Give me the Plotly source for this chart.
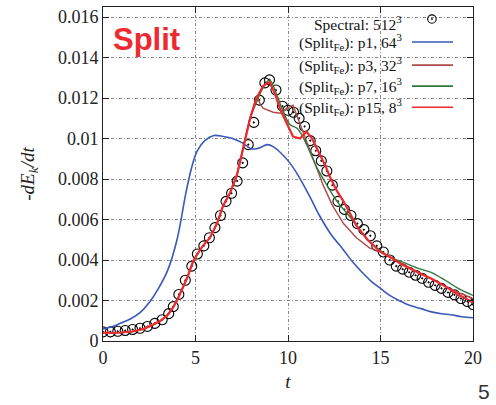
import plotly.graph_objects as go

# ---------------- data ----------------
spec_t = [0.0, 0.4, 0.8, 1.2, 1.6, 2.0, 2.4, 2.8, 3.2, 3.55, 3.8, 4.1, 4.45, 4.8, 5.1, 5.45,
          5.75, 6.05, 6.35, 6.65, 6.95, 7.25, 7.55, 7.85, 8.15, 8.45, 8.75, 9.0, 9.35, 9.7,
          10.0, 10.3, 10.6, 10.9, 11.2, 11.5, 11.8, 12.1, 12.4, 12.7, 13.05, 13.4, 13.75,
          14.1, 14.45, 14.8, 15.15, 15.5, 15.85, 16.2, 16.55, 16.9, 17.25, 17.6, 17.95,
          18.3, 18.65, 19.0, 19.35, 19.7, 20.0]
spec_v = [0.00045, 0.00045, 0.00048, 0.00052, 0.00057, 0.00063, 0.00072, 0.00087, 0.00105,
          0.00135, 0.0017, 0.0023, 0.0030, 0.0037, 0.0043, 0.0047, 0.0051, 0.0056, 0.0062,
          0.0069, 0.0073, 0.0079, 0.0088, 0.0097, 0.0108, 0.0119, 0.01275, 0.0129, 0.0124,
          0.0116, 0.0114, 0.0113, 0.0110, 0.0106, 0.0099, 0.0094, 0.0089, 0.0084, 0.0077,
          0.0069, 0.0065, 0.0062, 0.0058, 0.0055, 0.0052, 0.0047, 0.0044, 0.0040, 0.0037,
          0.00355, 0.0034, 0.00325, 0.0031, 0.0029, 0.00275, 0.0026, 0.0024, 0.00228,
          0.0021, 0.00195, 0.0018]

p1_t = [0, 0.5, 1.0, 1.5, 2.0, 2.5, 3.0, 3.5, 4.0, 4.5, 4.8, 5.1, 5.5, 6.0, 6.5, 7.0, 7.5,
        8.0, 8.3, 8.6, 8.9, 9.2, 9.6, 10.1, 10.6, 11.2, 11.7, 12.3, 13.0, 13.5, 14.0, 14.5,
        15.0, 15.5, 16.0, 16.6, 17.2, 17.7, 18.3, 18.8, 19.4, 20.0]
p1_v = [0.0006, 0.0007, 0.0009, 0.0011, 0.0014, 0.0019, 0.0026, 0.0035, 0.0050, 0.0074,
        0.0086, 0.0094, 0.0099, 0.01015, 0.0101, 0.0100, 0.0098, 0.0095, 0.0095, 0.0096,
        0.0097, 0.0096, 0.0093, 0.0088, 0.0081, 0.0071, 0.0062, 0.0053, 0.0045, 0.0039,
        0.0034, 0.00295, 0.0026, 0.00225, 0.0020, 0.00175, 0.0016, 0.00145, 0.00135,
        0.0013, 0.0012, 0.00115]

rise_t = [0, 0.5, 1.0, 1.6, 2.2, 2.7, 3.1, 3.46, 3.75, 4.0, 4.3, 4.54, 4.86, 5.1, 5.4,
          5.78, 6.16, 6.5, 6.86, 7.24, 7.57, 7.95]
rise_v = [0.0004, 0.0004, 0.00042, 0.00047, 0.0006, 0.0008, 0.001, 0.00125, 0.0016, 0.0020,
          0.0026, 0.0031, 0.0039, 0.0043, 0.0047, 0.0051, 0.0058, 0.0067, 0.0073, 0.0082,
          0.0095, 0.0110]

p3_t = rise_t + [8.3, 8.5, 8.65, 8.9, 9.2, 9.57, 9.95, 10.27, 10.5, 10.9, 11.35, 11.9, 12.4,
                 13.0, 13.7, 14.4, 15.0, 15.6, 16.2, 17.0, 17.7, 18.5, 19.2, 20.0]
p3_v = rise_v + [0.0121, 0.0117, 0.0115, 0.0114, 0.0113, 0.01125, 0.0115, 0.01165, 0.0111,
                 0.0101, 0.0090, 0.0077, 0.0067, 0.0058, 0.0051, 0.0046, 0.0044, 0.0041,
                 0.0038, 0.0034, 0.0031, 0.0027, 0.0024, 0.0021]

p7_t = rise_t + [8.3, 8.65, 9.0, 9.4, 9.73, 10.1, 10.5, 10.8, 11.2, 11.6, 12.1, 12.65, 13.2,
                 13.8, 14.4, 15.1, 15.6, 16.2, 17.0, 17.7, 18.5, 19.2, 20.0]
p7_v = rise_v + [0.0118, 0.0125, 0.0129, 0.01215, 0.01135, 0.0107, 0.0105, 0.0101, 0.0093,
                 0.0085, 0.0077, 0.0069, 0.0063, 0.0056, 0.0049, 0.0044, 0.0041, 0.0039,
                 0.0036, 0.0034, 0.0030, 0.0026, 0.00225]

p15_t = rise_t + [8.3, 8.65, 9.0, 9.3, 9.6, 9.95, 10.27, 10.65, 11.0, 11.3, 11.73, 12.0,
                  12.27, 12.65, 13.0, 13.35, 13.7, 14.3, 15.0, 15.6, 16.2, 17.0, 17.7, 18.5,
                  19.2, 20.0]
p15_v = rise_v + [0.0120, 0.0126, 0.0128, 0.0122, 0.0114, 0.0107, 0.0101, 0.0100, 0.01035,
                  0.0100, 0.0092, 0.0087, 0.0081, 0.0074, 0.0069, 0.0063, 0.0057, 0.0050,
                  0.0044, 0.0041, 0.00375, 0.0034, 0.0031, 0.0027, 0.0023, 0.0019]

x_ticks = [0, 5, 10, 15, 20]
y_ticks = [0, 0.002, 0.004, 0.006, 0.008, 0.01, 0.012, 0.014, 0.016]
y_ticktext = ["0", "0.002", "0.004", "0.006", "0.008", "0.01", "0.012", "0.014", "0.016"]

legend_labels = ["Spectral: 512<sup>3</sup>",
                 "(Split<sub>Fe</sub>): p1, 64<sup>3</sup>",
                 "(Split<sub>Fe</sub>): p3, 32<sup>3</sup>",
                 "(Split<sub>Fe</sub>): p7, 16<sup>3</sup>",
                 "(Split<sub>Fe</sub>): p15, 8<sup>3</sup>"]

# ---------------- styles ----------------
C_BLUE = "#3a58b8"
C_BROWN = "#b04a4a"
C_GREEN = "#2e7a3c"
C_RED = "#ee2a30"
SERIF = "Liberation Serif"

fig = go.Figure()
fig.add_trace(go.Scatter(x=spec_t, y=spec_v, mode="markers",
                         marker=dict(symbol="circle-open-dot", size=10, color="black",
                                     line=dict(width=1.1, color="black"))))
fig.add_trace(go.Scatter(x=p1_t, y=p1_v, mode="lines", line=dict(color=C_BLUE, width=1.6, shape="spline")))
fig.add_trace(go.Scatter(x=p3_t, y=p3_v, mode="lines", line=dict(color=C_BROWN, width=1.4)))
fig.add_trace(go.Scatter(x=p7_t, y=p7_v, mode="lines", line=dict(color=C_GREEN, width=1.4, shape="spline")))
fig.add_trace(go.Scatter(x=p15_t, y=p15_v, mode="lines", line=dict(color=C_RED, width=2.2)))

# legend background (white box covering the grid)
fig.add_shape(type="rect", xref="paper", yref="paper", x0=0.403, x1=0.965, y0=0.677, y1=0.995,
              fillcolor="white", line=dict(width=0), layer="between")

leg_y = [0.952, 0.895, 0.826, 0.763, 0.700]
leg_colors = [None, C_BLUE, C_BROWN, C_GREEN, C_RED]
for lab, ly, col in zip(legend_labels, leg_y, leg_colors):
    fig.add_annotation(text=lab, xref="paper", yref="paper", x=0.813, y=ly,
                       xanchor="right", yanchor="middle", showarrow=False,
                       font=dict(family=SERIF, size=15.5, color="#111"))
    if col is None:
        fig.add_shape(type="circle", xref="paper", yref="paper",
                      x0=0.889 - 0.0115, x1=0.889 + 0.0115, y0=ly + 0.012 - 0.0125, y1=ly + 0.012 + 0.0125,
                      line=dict(color="black", width=1.1), layer="above")
        fig.add_shape(type="circle", xref="paper", yref="paper",
                      x0=0.889 - 0.002, x1=0.889 + 0.002, y0=ly + 0.012 - 0.002, y1=ly + 0.012 + 0.002,
                      fillcolor="black", line=dict(color="black", width=0.5), layer="above")
    else:
        fig.add_shape(type="line", xref="paper", yref="paper", x0=0.835, x1=0.946, y0=ly, y1=ly,
                      line=dict(color=col, width=1.6), layer="above")

fig.add_annotation(text="<b>Split</b>", xref="paper", yref="paper", x=0.022, y=0.902,
                   xanchor="left", yanchor="middle", showarrow=False,
                   font=dict(family="Liberation Sans", size=31, color=C_RED))
fig.add_annotation(text="5", xref="paper", yref="paper", x=1.052, y=-0.1916,
                   xanchor="right", yanchor="bottom", showarrow=False,
                   font=dict(family="Liberation Sans", size=21, color="#333"))

axis_common = dict(showline=True, linecolor="#222", linewidth=1, mirror="ticks",
                   ticks="inside", ticklen=6, tickcolor="#222",
                   showgrid=True, gridcolor="#888", gridwidth=1, griddash="3px,2px,1px,2px",
                   zeroline=False, tickfont=dict(family=SERIF, size=18, color="#222"))

fig.update_xaxes(range=[0, 20], tickvals=x_ticks, **axis_common,
                 title=dict(text="<i>t</i>", font=dict(family=SERIF, size=19, color="#222"), standoff=8))
fig.update_yaxes(range=[0, 0.0165], tickvals=y_ticks, ticktext=y_ticktext, **axis_common,
                 title=dict(text="<i>-dE<sub>k</sub>/dt</i>", font=dict(family=SERIF, size=19, color="#222"),
                            standoff=18))

fig.update_layout(width=496, height=405, margin=dict(l=103, r=23, t=7, b=64),
                  showlegend=False, plot_bgcolor="white", paper_bgcolor="white")

fig.write_html("out.html")
